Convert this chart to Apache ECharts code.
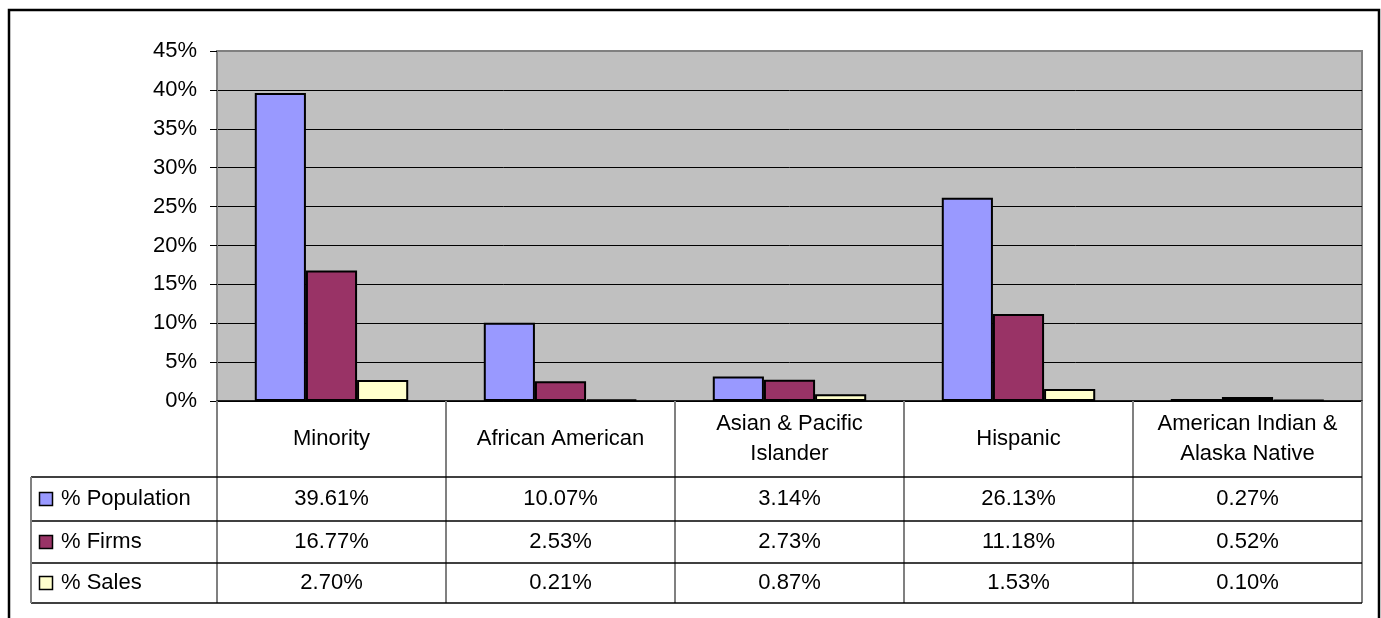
<!DOCTYPE html>
<html><head><meta charset="utf-8">
<script src="https://cdn.jsdelivr.net/npm/echarts@6/dist/echarts.min.js"></script>
<style>html,body{margin:0;padding:0;background:#fff}#c{width:1381px;height:618px}</style>
</head><body><div id="c"></div>
<script>
const categories = ['Minority', 'African American', 'Asian & Pacific\nIslander', 'Hispanic', 'American Indian &\nAlaska Native'];
const seriesNames = ['% Population', '% Firms', '% Sales'];
const population = [39.61, 10.07, 3.14, 26.13, 0.27];
const firms = [16.77, 2.53, 2.73, 11.18, 0.52];
const sales = [2.70, 0.21, 0.87, 1.53, 0.10];
const colors = ['#9999FF', '#993366', '#FFFFCC'];
const yMin = 0, yMax = 45, yStep = 5;

const FONT = "'Liberation Sans', Arial, sans-serif";
const FS = 22;
const seriesData = [population, firms, sales];

const chart = echarts.init(document.getElementById('c'), null, {renderer: 'canvas'});
const splitColors = ['#000', '#000', '#000', '#000', '#000', '#000', '#000', '#000', '#000', '#808080'];
const option = {
  animation: false,
  backgroundColor: '#ffffff',
  grid: {left: 217, top: 51, width: 1145, height: 350, show: true, backgroundColor: '#C0C0C0', borderColor: '#808080', borderWidth: 2},
  xAxis: {
    type: 'category', data: categories,
    axisLine: {show: true, lineStyle: {color: '#000', width: 1.5}},
    axisTick: {show: true, length: 202, lineStyle: {color: '#808080', width: 2}},
    axisLabel: {margin: 38, verticalAlign: 'middle', color: '#000', fontFamily: FONT, fontSize: FS, lineHeight: 30, interval: 0}
  },
  yAxis: {
    type: 'value', min: yMin, max: yMax, interval: yStep,
    axisLine: {show: true, lineStyle: {color: '#808080', width: 2}},
    axisTick: {show: true, length: 7, lineStyle: {color: '#000', width: 1}},
    axisLabel: {margin: 20, formatter: '{value}%', color: '#000', fontFamily: FONT, fontSize: FS},
    splitLine: {show: true, lineStyle: {color: splitColors, width: 1}}
  },
  series: seriesNames.map((n, i) => ({
    name: n, type: 'bar', data: seriesData[i],
    barGap: '0%', barCategoryGap: '33%',
    itemStyle: {color: colors[i], borderColor: '#000', borderWidth: 2}
  }))
};
chart.setOption(option);

// Build data table below the axis
const rowLines = [477, 521, 563, 603];
const tableLeft = 31, tableRight = 1362;
const g = [];
rowLines.forEach(y => g.push({type: 'line', shape: {x1: tableLeft, y1: y, x2: tableRight, y2: y}, style: {stroke: '#000', lineWidth: 1.5}, z: 10}));
g.push({type: 'line', shape: {x1: tableLeft, y1: rowLines[0], x2: tableLeft, y2: rowLines[3]}, style: {stroke: '#808080', lineWidth: 2}, z: 10});
seriesNames.forEach((n, r) => {
  const cy = (rowLines[r] + rowLines[r + 1]) / 2;
  g.push({type: 'rect', shape: {x: 39.5, y: cy - 6.5, width: 13, height: 13}, style: {fill: colors[r], stroke: '#000', lineWidth: 1.5}, z: 11});
  g.push({type: 'text', x: 61, y: cy, style: {text: n, fill: '#000', font: FS + 'px ' + FONT, textAlign: 'left', textVerticalAlign: 'middle'}, z: 11});
  seriesData[r].forEach((v, c) => {
    const cx = chart.convertToPixel({xAxisIndex: 0}, c);
    g.push({type: 'text', x: cx, y: cy, style: {text: v.toFixed(2) + '%', fill: '#000', font: FS + 'px ' + FONT, textAlign: 'center', textVerticalAlign: 'middle'}, z: 11});
  });
});
g.push({type: 'rect', shape: {x: 9, y: 10, width: 1370, height: 640}, style: {fill: 'none', stroke: '#000', lineWidth: 2.5}, z: 20});
chart.setOption({graphic: g});
</script>
</body></html>
